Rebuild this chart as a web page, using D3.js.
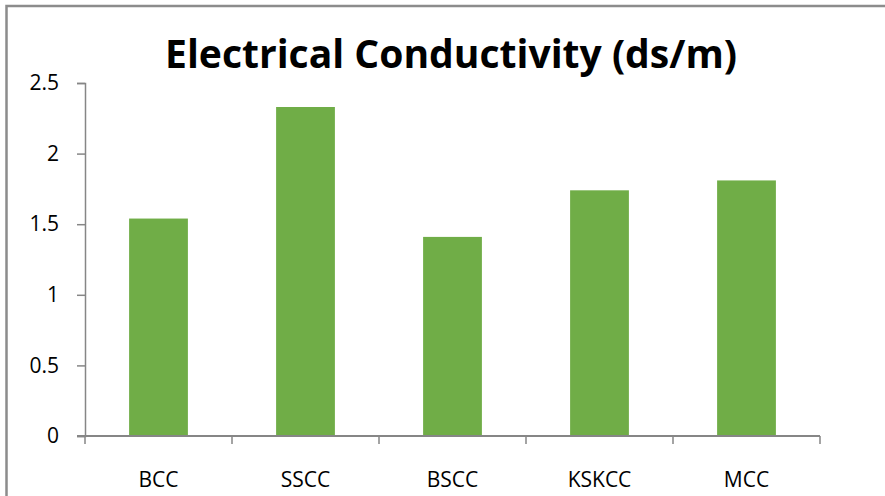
<!DOCTYPE html>
<html>
<head>
<meta charset="utf-8">
<script src="https://cdn.jsdelivr.net/npm/d3@7/dist/d3.min.js"></script>
<style>
  html, body { margin: 0; padding: 0; background: #fff; }
  svg { display: block; }
  text { font-family: "Open Sans", "Noto Sans", sans-serif; fill: #000; }
</style>
</head>
<body>
<svg id="chart" width="885" height="496"></svg>
<script>
// Electrical conductivity by compost type
const categories = ["BCC", "SSCC", "BSCC", "KSKCC", "MCC"];
const conductivity = [1.54, 2.33, 1.41, 1.74, 1.81];
const yTicks = [0, 0.5, 1, 1.5, 2, 2.5];
const yTickLabels = ["0", "0.5", "1", "1.5", "2", "2.5"];
const chartTitle = "Electrical Conductivity (ds/m)";

const svg = d3.select("#chart");
const W = 885, H = 496;
const plot = { left: 85, right: 820, top: 83, bottom: 436 };

// Outer chart frame (top and left edges visible)
svg.append("path")
  .attr("d", `M6.5,${H} V6 H${W}`)
  .attr("fill", "none")
  .attr("stroke", "#8c8c8c")
  .attr("stroke-width", 2.5);

const x = d3.scaleBand()
  .domain(categories)
  .range([plot.left, plot.right])
  .paddingInner(0.6)
  .paddingOuter(0.3);

const y = d3.scaleLinear()
  .domain([0, 2.5])
  .range([plot.bottom, plot.top]);

// Bars
svg.append("g").selectAll("rect")
  .data(categories.map((c, i) => ({ c, v: conductivity[i] })))
  .join("rect")
  .attr("x", d => x(d.c))
  .attr("y", d => y(d.v))
  .attr("width", x.bandwidth())
  .attr("height", d => y(0) - y(d.v))
  .attr("fill", "#70ad47");

// Y axis
const yAxis = svg.append("g")
  .attr("transform", `translate(${plot.left},0)`)
  .call(d3.axisLeft(y).tickValues(yTicks)
    .tickFormat((d, i) => yTickLabels[i])
    .tickSize(8).tickPadding(18));
yAxis.select(".domain").attr("stroke", "#868686").attr("stroke-width", 1.5);
yAxis.selectAll(".tick line").attr("stroke", "#868686").attr("stroke-width", 1.5);
yAxis.selectAll(".tick text")
  .attr("font-size", 21)
  .attr("font-family", "Open Sans, sans-serif")
  .attr("fill", "#000");

// X axis with ticks at category boundaries
const step = x.step();
const boundaries = d3.range(categories.length + 1).map(i => plot.left + i * step);
const xAxisG = svg.append("g");
xAxisG.append("line")
  .attr("x1", plot.left - 8).attr("x2", plot.right)
  .attr("y1", y(0)).attr("y2", y(0))
  .attr("stroke", "#868686").attr("stroke-width", 2);
xAxisG.selectAll("line.bt")
  .data(boundaries)
  .join("line")
  .attr("class", "bt")
  .attr("x1", d => d).attr("x2", d => d)
  .attr("y1", y(0)).attr("y2", y(0) + 8)
  .attr("stroke", "#868686").attr("stroke-width", 1.5);
xAxisG.selectAll("text")
  .data(categories)
  .join("text")
  .attr("x", d => x(d) + x.bandwidth() / 2)
  .attr("y", 487)
  .attr("text-anchor", "middle")
  .attr("font-size", 21)
  .text(d => d);

// Title
svg.append("text")
  .attr("x", 451)
  .attr("y", 68)
  .attr("text-anchor", "middle")
  .attr("font-size", 39)
  .attr("font-weight", "bold")
  .attr("textLength", 572)
  .attr("lengthAdjust", "spacingAndGlyphs")
  .text(chartTitle);
</script>
</body>
</html>
